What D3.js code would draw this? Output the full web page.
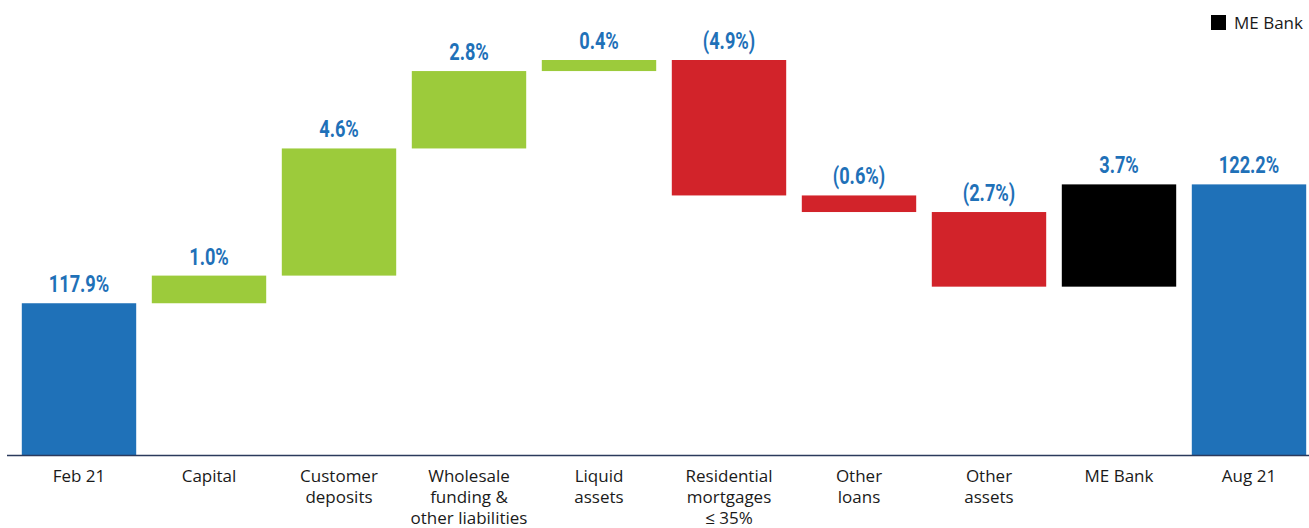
<!DOCTYPE html>
<html>
<head>
<meta charset="utf-8">
<script src="https://cdn.jsdelivr.net/npm/d3@7"></script>
<style>
  body { margin: 0; background: #fff; }
  svg { display: block; }
</style>
</head>
<body>
<div id="chart"></div>
<script>
var categories = ['Feb 21', 'Capital', 'Customer deposits', 'Wholesale funding & other liabilities',
    'Liquid assets', 'Residential mortgages ≤ 35%', 'Other loans', 'Other assets', 'ME Bank', 'Aug 21'];
var catLines = [['Feb 21'], ['Capital'], ['Customer', 'deposits'], ['Wholesale', 'funding &', 'other liabilities'],
    ['Liquid', 'assets'], ['Residential', 'mortgages', '≤ 35%'], ['Other', 'loans'], ['Other', 'assets'], ['ME Bank'], ['Aug 21']];
var values = [117.9, 1.0, 4.6, 2.8, 0.4, -4.9, -0.6, -2.7, 3.7, 122.2];
var kinds = ['total', 'step', 'step', 'step', 'step', 'step', 'step', 'step', 'merger', 'total'];
var labels = ['117.9%', '1.0%', '4.6%', '2.8%', '0.4%', '(4.9%)', '(0.6%)', '(2.7%)', '3.7%', '122.2%'];

var colours = {
    total: '#1f71b8',
    up: '#9ccb3b',
    down: '#d2232a',
    merger: '#000000'
};

var width = 1309, height = 528;
var baseY = 455;

var svg = d3.select('#chart')
    .append('svg')
    .attr('width', width)
    .attr('height', height);

// running totals for the waterfall
var running = 0;
var bars = values.map(function(v, i) {
    var start, end;
    if (kinds[i] === 'total') {
        start = null;
        end = v;
        running = v;
    } else {
        start = running;
        end = running + v;
        running = end;
    }
    return { cat: categories[i], kind: kinds[i], v: v, start: start, end: end, label: labels[i], lines: catLines[i] };
});

var x = d3.scaleBand()
    .domain(categories)
    .range([14, 1314])
    .paddingInner(0.12)
    .paddingOuter(0.06);

var y = d3.scaleLinear()
    .domain([112.41, 126.7])
    .range([baseY, 60]);

function barTop(d) {
    if (d.kind === 'total') return y(d.end);
    return y(Math.max(d.start, d.end));
}
function barBottom(d) {
    if (d.kind === 'total') return baseY;
    return y(Math.min(d.start, d.end));
}
function barColour(d) {
    if (d.kind === 'total') return colours.total;
    if (d.kind === 'merger') return colours.merger;
    return d.v >= 0 ? colours.up : colours.down;
}

svg.append('g')
    .selectAll('rect')
    .data(bars)
    .enter()
    .append('rect')
    .attr('x', function(d) { return x(d.cat); })
    .attr('y', barTop)
    .attr('width', x.bandwidth())
    .attr('height', function(d) { return barBottom(d) - barTop(d); })
    .attr('fill', barColour);

// value labels, squeezed horizontally to get the condensed look
svg.append('g')
    .selectAll('text')
    .data(bars)
    .enter()
    .append('text')
    .attr('transform', function(d) {
        return 'translate(' + (x(d.cat) + x.bandwidth() / 2) + ',' + (barTop(d) - 11) + ') scale(0.76,1)';
    })
    .attr('text-anchor', 'middle')
    .attr('fill', '#1f71b8')
    .style('font-family', 'Roboto, sans-serif')
    .style('font-weight', 'bold')
    .style('font-size', '24px')
    .text(function(d) { return d.label; });

// x axis line
svg.append('line')
    .attr('x1', 7)
    .attr('x2', width)
    .attr('y1', baseY + 0.5)
    .attr('y2', baseY + 0.5)
    .attr('stroke', '#2b3a5c')
    .attr('stroke-width', 1.5);

var catText = svg.append('g')
    .selectAll('text')
    .data(bars)
    .enter()
    .append('text')
    .attr('text-anchor', 'middle')
    .attr('fill', '#1a1a1a')
    .style('font-family', '"Open Sans", "Noto Sans", sans-serif')
    .style('font-size', '17px');

catText.each(function(d) {
    var t = d3.select(this);
    d.lines.forEach(function(line, i) {
        t.append('tspan')
            .attr('x', x(d.cat) + x.bandwidth() / 2)
            .attr('y', 482 + i * 21)
            .text(line);
    });
});

// legend
var legend = svg.append('g');
legend.append('rect')
    .attr('x', 1211)
    .attr('y', 15)
    .attr('width', 15)
    .attr('height', 15)
    .attr('fill', colours.merger);
legend.append('text')
    .attr('x', 1234)
    .attr('y', 29)
    .attr('fill', '#1a1a1a')
    .style('font-family', '"Open Sans", "Noto Sans", sans-serif')
    .style('font-size', '17px')
    .text('ME Bank');
</script>
</body>
</html>
